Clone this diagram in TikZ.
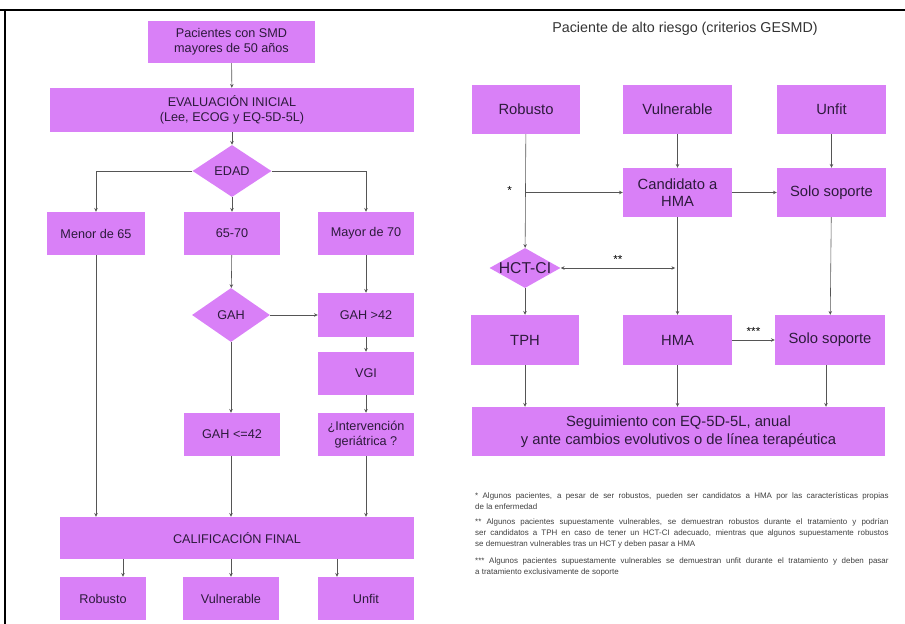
\documentclass[tikz,border=0pt]{standalone}
\usepackage{fontspec}
\setmainfont{Liberation Sans}
\usetikzlibrary{shapes.geometric,arrows.meta,positioning}
\definecolor{boxfill}{RGB}{217,128,247}
\definecolor{boxtext}{RGB}{45,26,60}
\definecolor{linegray}{RGB}{85,85,85}
\tikzset{
  lbox/.style={rectangle,fill=boxfill,text=boxtext,align=center,inner sep=1pt,
    font=\fontsize{10.8}{12.8}\selectfont,minimum width=2.88cm,minimum height=1.29cm},
  rbox/.style={rectangle,fill=boxfill,text=boxtext,align=center,inner sep=1pt,
    font=\fontsize{12.6}{15}\selectfont,minimum width=3.24cm,minimum height=1.47cm},
  dec/.style={diamond,fill=boxfill,text=boxtext,inner sep=0pt},
  arr/.style={draw=linegray,line width=0.5pt,-{Stealth[length=3.2pt,width=3pt]}},
  note/.style={text width=12.4cm,align=justify,inner sep=0pt,text=black!75,
    font=\fontsize{6.8}{9.6}\selectfont}
}
\begin{document}
\begin{tikzpicture}[x=0.03cm,y=-0.03cm]
  \useasboundingbox (0,0) rectangle (905,624);
  \draw[line width=1.6pt] (0,10) -- (905,10);
  \draw[line width=1.6pt] (5,10) -- (5,624);

  % left
  \node[lbox,minimum width=5.01cm,minimum height=1.26cm] (pac) at (231.5,42) {Pacientes con SMD\\mayores de 50 años};
  \node[lbox,minimum width=10.92cm,minimum height=1.32cm] (eval) at (232,110) {EVALUACIÓN INICIAL\\(Lee, ECOG y EQ-5D-5L)};
  \node[dec,minimum width=2.37cm,minimum height=1.56cm,font=\fontsize{10.8}{12.8}\selectfont] (edad) at (232,171) {EDAD};
  \node[lbox,minimum width=2.91cm] (menor) at (96,233.5) {Menor de 65};
  \node[lbox] (mid) at (232,233.5) {65-70};
  \node[lbox] (mayor) at (366,233.5) {Mayor de 70};
  \node[dec,minimum width=2.34cm,minimum height=1.62cm,font=\fontsize{10.8}{12.8}\selectfont] (gah) at (231,315) {GAH};
  \node[lbox,minimum height=1.32cm] (gahhi) at (366,315) {GAH >42};
  \node[lbox] (vgi) at (366,373.5) {VGI};
  \node[lbox] (interv) at (366,434.5) {¿Intervención\\geriátrica ?};
  \node[lbox] (gahlo) at (232,434.5) {GAH <=42};
  \node[lbox,minimum width=10.62cm,minimum height=1.26cm] (calif) at (237,538) {CALIFICACIÓN FINAL};
  \node[lbox,minimum width=2.58cm] (robl) at (103,598.5) {Robusto};
  \node[lbox] (vull) at (231,598.5) {Vulnerable};
  \node[lbox] (unfl) at (366,598.5) {Unfit};

  % right
  \node[text=black!80,font=\fontsize{12.2}{14}\selectfont] (title) at (685,29) {Paciente de alto riesgo (criterios GESMD)};
  \node[rbox] (robr) at (526,109.5) {Robusto};
  \node[rbox,minimum width=3.27cm] (vulr) at (677.5,109.5) {Vulnerable};
  \node[rbox,minimum width=3.27cm] (unfr) at (831.5,109.5) {Unfit};
  \node[rbox,minimum width=3.27cm] (cand) at (677.5,192.5) {Candidato a\\HMA};
  \node[rbox,minimum width=3.27cm] (sop1) at (831.5,192.5) {Solo soporte};
  \node[dec,minimum width=2.13cm,minimum height=1.2cm,
    label={[text=boxtext,font=\fontsize{13.4}{15}\selectfont]center:HCT-CI}] (hct) at (525,268) {};
  \node[rbox,minimum height=1.5cm] (tph) at (525,340) {TPH};
  \node[rbox,minimum width=3.27cm,minimum height=1.5cm] (hma) at (677.5,340) {HMA};
  \node[rbox,minimum width=3.3cm,minimum height=1.5cm] (sop2) at (830,340) {Solo soporte};
  \node[rbox,minimum width=12.39cm] (seg) at (678.5,431.5) {Seguimiento con EQ-5D-5L, anual\\y ante cambios evolutivos o de línea terapéutica};
  \coordinate (split) at (robr.south |- cand.west);
  \coordinate (swap) at (cand.south |- hct.east);
  \node[left=0.3cm of split,yshift=0.06cm,font=\normalsize] (star) {*};

  \node[note,anchor=north west] (fn1) at (475,492) {* Algunos pacientes, a pesar de ser robustos, pueden ser candidatos a HMA por las características propias\linebreak de la enfermedad};
  \node[note,below=0.26cm of fn1] (fn2) {** Algunos pacientes supuestamente vulnerables, se demuestran robustos durante el tratamiento y podrían\linebreak ser candidatos a TPH en caso de tener un HCT-CI adecuado, mientras que algunos supuestamente robustos\linebreak se demuestran vulnerables tras un HCT y deben pasar a HMA};
  \node[note,below=0.26cm of fn2] (fn3) {*** Algunos pacientes supuestamente vulnerables se demuestran unfit durante el tratamiento y deben pasar\linebreak a tratamiento exclusivamente de soporte};

  \begin{scope}[arr]
    \draw (pac) to (eval);
    \draw (eval) to (edad);
    \draw (edad.west) -| (menor.north);
    \draw (edad) to (mid);
    \draw (edad.east) -| (mayor.north);
    \draw (mid) to (gah);
    \draw (gah.east) to (gahhi.west);
    \draw (gah.south) to (gahlo.north -| gah.south);
    \draw (mayor) to (gahhi);
    \draw (gahhi) to (vgi);
    \draw (vgi) to (interv);
    \draw (menor.south) to (menor.south |- calif.north);
    \draw (gahlo.south -| gah.south) to (calif.north -| gah.south);
    \draw (interv.south) to (interv.south |- calif.north);
    \draw ([xshift=0.6cm]robl.north |- calif.south) to ([xshift=0.6cm]robl.north);
    \draw (vull.north |- calif.south) to (vull.north);
    \draw ([xshift=-0.87cm]unfl.north |- calif.south) to ([xshift=-0.87cm]unfl.north);

    \draw (robr) to (hct);
    \draw (split) to (cand.west);
    \draw (vulr) to (cand);
    \draw (unfr) to (sop1);
    \draw (cand) to (sop1);
    \draw[{Stealth[length=3.2pt,width=3pt]}-{Stealth[length=3.2pt,width=3pt]}] (hct.east) to
      node[above,font=\normalsize,text=black] (dstar) {**} ([xshift=-2pt]swap);
    \draw (cand) to (hma);
    \draw (sop1) to (sop2);
    \draw (hma) to node[above,font=\normalsize,text=black] (tstar) {***} (sop2);
    \draw (hct) to (tph);
    \draw (tph.south) to (tph.south |- seg.north);
    \draw (hma) to (hma.south |- seg.north);
    \draw ([xshift=-0.12cm]sop2.south) to ([xshift=-0.12cm]sop2.south |- seg.north);
  \end{scope}
\end{tikzpicture}
\end{document}
